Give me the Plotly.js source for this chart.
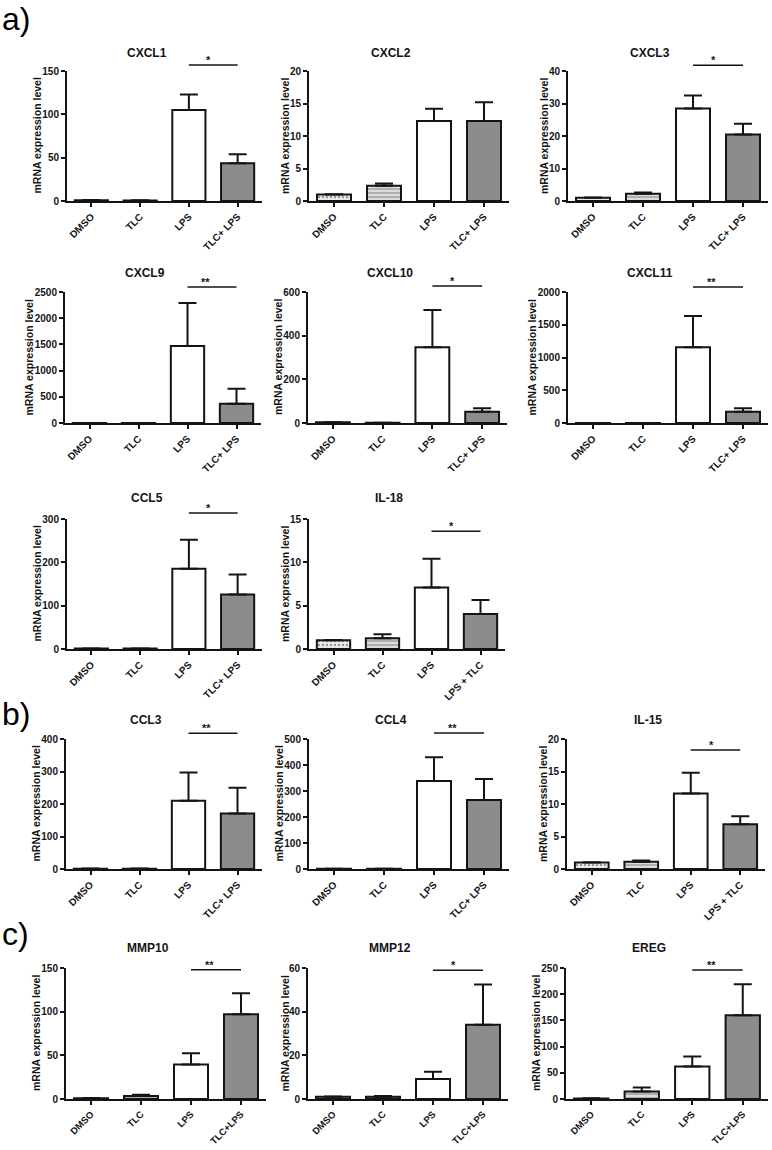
<!DOCTYPE html>
<html>
<head>
<meta charset="utf-8">
<script src="https://cdn.plot.ly/plotly-3.0.1.min.js"></script>
<style>html,body{margin:0;padding:0;background:#fff}#chart{width:772px;height:1150px}</style>
</head>
<body>
<div id="chart"></div>
<script>
// ---- data ----
const groupsStd = ['DMSO', 'TLC', 'LPS', 'TLC+ LPS'];
const groupsRev = ['DMSO', 'TLC', 'LPS', 'LPS + TLC'];
const groupsC   = ['DMSO', 'TLC', 'LPS', 'TLC+LPS'];

const geneNames = ['CXCL1','CXCL2','CXCL3','CXCL9','CXCL10','CXCL11','CCL5','IL-18','CCL3','CCL4','IL-15','MMP10','MMP12','EREG'];

const cxcl1Mean  = [1.0, 0.7, 105, 43.5];   const cxcl1Err  = [0.2, 0.1, 18, 10.5];
const cxcl2Mean  = [1.0, 2.35, 12.3, 12.3]; const cxcl2Err  = [0.05, 0.35, 1.9, 2.9];
const cxcl3Mean  = [1.0, 2.2, 28.5, 20.5];  const cxcl3Err  = [0.1, 0.4, 4.0, 3.3];
const cxcl9Mean  = [1, 1, 1470, 365];       const cxcl9Err  = [0, 0.5, 820, 290];
const cxcl10Mean = [3, 1, 347, 51];         const cxcl10Err = [0.5, 0.3, 171, 16];
const cxcl11Mean = [1, 1, 1155, 170];       const cxcl11Err = [0.2, 0.2, 478, 55];
const ccl5Mean   = [1, 1, 185, 126];        const ccl5Err   = [0.2, 0.2, 67, 46];
const il18Mean   = [1.0, 1.25, 7.1, 4.05];  const il18Err   = [0.05, 0.45, 3.3, 1.6];
const ccl3Mean   = [1, 1, 210, 171];        const ccl3Err   = [0.2, 0.2, 87, 79];
const ccl4Mean   = [1, 1, 338, 265];        const ccl4Err   = [0.2, 0.2, 92, 81];
const il15Mean   = [1, 1.1, 11.6, 6.9];     const il15Err   = [0.05, 0.2, 3.2, 1.2];
const mmp10Mean  = [1, 3.5, 39.5, 97];      const mmp10Err  = [0.2, 1.5, 13, 24];
const mmp12Mean  = [1, 1, 9.2, 34];         const mmp12Err  = [0.1, 0.4, 3.3, 18.5];
const eregMean   = [1, 14.5, 62, 160];      const eregErr   = [0.2, 7.5, 19, 59];

const yMax   = [150, 20, 40, 2500, 600, 2000, 300, 15, 400, 500, 20, 150, 60, 250];
const yStep  = [50, 5, 10, 500, 200, 500, 100, 5, 100, 100, 5, 50, 20, 50];
const sigText  = ['*', '', '*', '**', '*', '**', '*', '*', '**', '**', '*', '**', '*', '**'];
const sigLevel = [157, 0, 41.8, 2595, 627, 2076, 314, 13.6, 418, 523, 18.3, 148, 59, 246];

const means = [cxcl1Mean, cxcl2Mean, cxcl3Mean, cxcl9Mean, cxcl10Mean, cxcl11Mean, ccl5Mean, il18Mean, ccl3Mean, ccl4Mean, il15Mean, mmp10Mean, mmp12Mean, eregMean];
const errs  = [cxcl1Err, cxcl2Err, cxcl3Err, cxcl9Err, cxcl10Err, cxcl11Err, ccl5Err, il18Err, ccl3Err, ccl4Err, il15Err, mmp10Err, mmp12Err, eregErr];
const groupsOf = [groupsStd, groupsStd, groupsStd, groupsStd, groupsStd, groupsStd, groupsStd, groupsRev, groupsStd, groupsStd, groupsRev, groupsC, groupsC, groupsC];

// ---- layout geometry (pixels) ----
const W = 772, H = 1150;
const boxes = [
  [67, 262, 71, 201], [309, 509, 71, 201], [568, 768, 71, 201],
  [65, 261, 292, 423], [308, 507, 292, 423], [568, 768, 292, 423],
  [67, 262, 519, 649], [309, 505, 519, 649],
  [66, 262, 739, 869], [309, 509, 739, 869], [567, 765, 739, 869],
  [66, 266, 968, 1099], [308, 508, 968, 1099], [566, 768, 968, 1099]
];
const titleGap = [18, 18, 18, 19, 19, 19, 21, 21, 19, 19, 19, 20, 20, 20];
const xTickSize = [10, 10, 10, 10, 10, 10, 10, 10, 10, 10, 10, 9.5, 9.5, 9.5];

const FONT = 'Liberation Sans, Arial, Helvetica, sans-serif';
const INK = '#141414';
const fills = ['#ededed', '#dcdcdc', '#ffffff', '#8c8c8c'];

const traces = [];
const layout = {
  width: W, height: H,
  margin: {l: 0, r: 0, t: 0, b: 0},
  paper_bgcolor: '#fff', plot_bgcolor: '#fff',
  showlegend: false,
  bargap: 0.32,
  font: {family: FONT, color: INK},
  annotations: [],
  shapes: [],
};

geneNames.forEach((g, i) => {
  const n = i + 1;
  const xa = 'x' + (n === 1 ? '' : n), ya = 'y' + (n === 1 ? '' : n);
  const xk = 'xaxis' + (n === 1 ? '' : n), yk = 'yaxis' + (n === 1 ? '' : n);
  const [x0, x1, yt, yb] = boxes[i];
  const labels = groupsOf[i];

  traces.push({
    type: 'bar', x: labels, y: means[i], xaxis: xa, yaxis: ya,
    cliponaxis: false, hoverinfo: 'skip',
    marker: {
      color: fills,
      line: {color: INK, width: 2},
      pattern: {shape: ['.', '-', '', ''], fillmode: 'overlay', fgcolor: ['#6a6a6a', '#555555', '#000', '#000'], size: 4, solidity: 0.3}
    },
    error_y: {type: 'data', symmetric: false, array: errs[i], arrayminus: [0, 0, 0, 0], color: INK, thickness: 2, width: 9}
  });

  if (sigText[i]) {
    const ia = 2, ib = labels.length - 1;
    const xa0 = (ia + 0.5) / labels.length, xb0 = (ib + 0.5) / labels.length;
    const yd = sigLevel[i] / yMax[i];
    layout.shapes.push({
      type: 'line', xref: xa + ' domain', yref: ya + ' domain',
      x0: xa0, x1: xb0, y0: yd, y1: yd, line: {color: INK, width: 1.5}
    });
    layout.annotations.push({
      xref: xa + ' domain', yref: ya + ' domain', x: (xa0 + xb0) / 2, y: yd,
      yanchor: 'bottom', yshift: -3,
      text: sigText[i], showarrow: false, font: {size: 11, weight: 'bold', color: INK}
    });
  }

  layout[xk] = {
    domain: [x0 / W, x1 / W], anchor: ya, type: 'category', range: [-0.5, 3.5],
    showline: true, linecolor: INK, linewidth: 2, mirror: false,
    ticks: 'outside', ticklen: 4, tickwidth: 2, tickcolor: INK,
    tickangle: -45, showgrid: false, zeroline: false, fixedrange: true,
    tickfont: {family: FONT, size: xTickSize[i], weight: 'bold', color: INK}
  };
  layout[yk] = {
    domain: [1 - yb / H, 1 - yt / H], anchor: xa, range: [0, yMax[i]], dtick: yStep[i], tick0: 0,
    showline: true, linecolor: INK, linewidth: 2,
    ticks: 'outside', ticklen: 4, tickwidth: 2, tickcolor: INK,
    showgrid: false, zeroline: false, fixedrange: true,
    tickfont: {family: FONT, size: 10, weight: 'bold', color: INK}
  };

  layout.annotations.push({
    xref: xa + ' domain', yref: ya + ' domain', x: 0.41, y: 1 + titleGap[i] / (yb - yt),
    xanchor: 'center', yanchor: 'middle', showarrow: false, text: g,
    font: {size: 12, weight: 'bold', color: INK}
  });
  const digits = String(yMax[i]).length;
  layout.annotations.push({
    xref: xa + ' domain', yref: ya + ' domain', x: 0, y: 0.5,
    xanchor: 'center', yanchor: 'middle', xshift: -(digits * 6.5 + 11),
    textangle: -90, showarrow: false, text: 'mRNA expression level',
    font: {size: 10.5, weight: 'bold', color: INK}
  });
});

[['a)', 19], ['b)', 714], ['c)', 934]].forEach(([t, py]) => {
  layout.annotations.push({
    xref: 'paper', yref: 'paper', x: 0, y: 1 - py / H, xanchor: 'left', yanchor: 'middle',
    showarrow: false, text: t, font: {family: FONT, size: 32, color: '#000'}
  });
});

Plotly.newPlot('chart', traces, layout, {staticPlot: true, displayModeBar: false});
</script>
</body>
</html>
